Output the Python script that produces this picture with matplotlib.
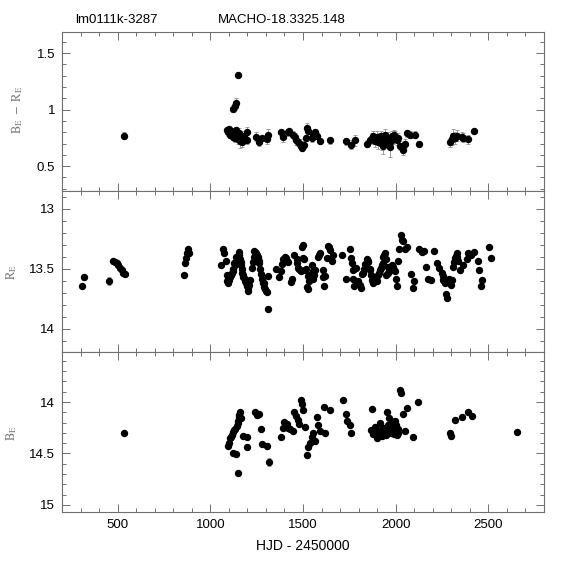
import matplotlib
matplotlib.use("Agg")
import matplotlib.pyplot as plt
from matplotlib.ticker import MultipleLocator, FormatStrFormatter

plt.rcParams['font.family'] = ['Liberation Sans', 'DejaVu Sans']
plt.rcParams['mathtext.fontset'] = 'stix'

title_left = "lm0111k-3287"
title_right = "MACHO-18.3325.148"
xlabel = "HJD - 2450000"

# rows: (HJD - 2450000, value, error)
br_rows = [
    (534, 0.77, .03), (1150, 1.31, .02), (1123, 1.01, .03), (1132, 1.03, .03), (1140, 1.06, .04),
    (1090, 0.82, .02), (1095, 0.80, .03), (1100, 0.83, .02), (1105, 0.78, .03), (1110, 0.81, .03),
    (1115, 0.79, .04), (1120, 0.76, .03), (1125, 0.80, .03), (1130, 0.77, .05), (1135, 0.75, .04),
    (1140, 0.82, .03), (1145, 0.78, .05), (1150, 0.74, .04), (1155, 0.79, .05), (1160, 0.72, .06),
    (1165, 0.76, .03), (1170, 0.71, .04), (1175, 0.74, .03), (1180, 0.77, .04), (1196, 0.80, .05),
    (1197, 0.73, .03), (1244, 0.76, .04), (1264, 0.71, .03), (1280, 0.75, .03), (1304, 0.74, .04),
    (1313, 0.78, .05), (1379, 0.80, .03), (1393, 0.76, .05), (1417, 0.80, .03), (1426, 0.81, .02),
    (1446, 0.78, .03), (1455, 0.76, .03), (1464, 0.73, .04), (1473, 0.71, .03), (1482, 0.70, .04),
    (1491, 0.68, .03), (1496, 0.66, .03), (1503, 0.69, .03), (1514, 0.75, .03), (1521, 0.84, .04),
    (1527, 0.81, .04), (1547, 0.75, .04), (1555, 0.78, .03), (1565, 0.80, .03), (1574, 0.77, .03),
    (1592, 0.72, .02), (1646, 0.73, .03), (1732, 0.72, .03), (1759, 0.69, .04), (1782, 0.73, .05),
    (1843, 0.70, .03), (1861, 0.73, .03), (1870, 0.75, .04), (1879, 0.77, .04), (1885, 0.74, .04),
    (1890, 0.72, .05), (1897, 0.76, .05), (1905, 0.71, .06), (1910, 0.75, .04), (1915, 0.73, .05),
    (1920, 0.77, .04), (1925, 0.70, .06), (1933, 0.68, .07), (1938, 0.74, .04), (1942, 0.78, .05),
    (1951, 0.71, .04), (1956, 0.75, .05), (1960, 0.73, .04), (1969, 0.67, .09), (1973, 0.72, .05),
    (1978, 0.77, .04), (1985, 0.74, .04), (1990, 0.78, .04), (1996, 0.76, .05), (2005, 0.73, .04),
    (2012, 0.75, .04), (2023, 0.68, .04), (2038, 0.64, .04), (2050, 0.70, .04), (2059, 0.79, .03),
    (2077, 0.78, .03), (2104, 0.78, .03), (2127, 0.70, .02), (2293, 0.71, .04), (2302, 0.74, .05),
    (2311, 0.77, .06), (2320, 0.75, .05), (2329, 0.77, .05), (2356, 0.76, .04), (2365, 0.75, .04),
    (2392, 0.74, .04), (2422, 0.81, .02),
]

r_rows = [
    (306, 13.64, .01), (319, 13.57, .02), (453, 13.60, .03), (477, 13.43, .01), (486, 13.44, .01),
    (495, 13.45, .01), (504, 13.47, .01), (513, 13.49, .01), (522, 13.51, .01), (531, 13.53, .01),
    (540, 13.54, .01), (858, 13.55, .01), (864, 13.45, .01), (869, 13.41, .01), (876, 13.37, .01),
    (882, 13.33, .01), (887, 13.37, .01),
    (1058, 13.47, .01), (1070, 13.33, .01), (1076, 13.37, .01), (1085, 13.43, .01), (1088, 13.55, .01),
    (1094, 13.58, .01), (1098, 13.62, .01), (1107, 13.57, .01), (1116, 13.53, .01), (1125, 13.50, .01),
    (1134, 13.47, .01), (1143, 13.43, .01), (1152, 13.39, .02), (1157, 13.36, .01), (1161, 13.42, .01),
    (1166, 13.47, .01), (1172, 13.53, .01), (1179, 13.57, .01), (1188, 13.60, .01), (1197, 13.64, .01),
    (1206, 13.68, .01), (1215, 13.59, .01), (1224, 13.49, .01), (1233, 13.40, .01), (1238, 13.35, .01),
    (1251, 13.38, .01), (1260, 13.43, .01), (1269, 13.50, .01), (1278, 13.58, .01), (1287, 13.65, .01),
    (1296, 13.67, .01), (1305, 13.69, .01), (1309, 13.56, .02), (1313, 13.83, .02), (1354, 13.50, .01),
    (1372, 13.57, .01), (1379, 13.52, .01), (1390, 13.42, .01), (1403, 13.40, .01), (1412, 13.43, .01),
    (1421, 13.44, .01), (1433, 13.61, .01), (1442, 13.58, .01), (1453, 13.38, .01), (1466, 13.42, .01),
    (1475, 13.49, .01), (1484, 13.51, .01), (1493, 13.32, .01), (1498, 13.30, .01), (1507, 13.42, .01),
    (1516, 13.50, .01), (1523, 13.65, .01), (1529, 13.56, .01),
    (1502, 13.41, .01), (1511, 13.51, .01), (1529, 13.67, .01), (1538, 13.55, .01), (1547, 13.47, .01),
    (1556, 13.58, .01), (1565, 13.51, .01), (1583, 13.40, .01), (1592, 13.37, .01), (1606, 13.51, .01),
    (1615, 13.64, .01), (1619, 13.56, .01), (1628, 13.41, .01), (1637, 13.31, .01), (1646, 13.34, .01),
    (1655, 13.43, .01), (1664, 13.38, .01), (1713, 13.38, .01), (1732, 13.58, .01), (1754, 13.33, .01),
    (1759, 13.41, .01), (1768, 13.51, .01), (1777, 13.64, .01), (1786, 13.49, .01), (1799, 13.60, .01),
    (1812, 13.66, .01), (1817, 13.54, .01), (1826, 13.53, .01), (1835, 13.46, .01), (1844, 13.42, .01),
    (1853, 13.44, .01), (1862, 13.51, .01), (1871, 13.59, .01), (1880, 13.62, .01), (1894, 13.58, .01),
    (1907, 13.55, .01), (1916, 13.51, .01), (1925, 13.47, .01), (1934, 13.40, .01), (1943, 13.37, .01),
    (1948, 13.42, .01), (1956, 13.48, .01), (1961, 13.53, .01), (1970, 13.51, .01), (1979, 13.47, .01),
    (1988, 13.49, .01), (2001, 13.58, .01), (2006, 13.64, .01), (2015, 13.43, .01), (2019, 13.33, .01),
    (2028, 13.22, .01), (2033, 13.26, .01), (2041, 13.27, .01), (2050, 13.33, .01), (2059, 13.32, .01),
    (2080, 13.54, .01), (2091, 13.66, .01), (2100, 13.60, .01), (2127, 13.33, .01), (2140, 13.36, .01),
    (2153, 13.35, .01), (2163, 13.48, .01), (2176, 13.58, .01), (2189, 13.59, .01), (2208, 13.35, .01),
    (2221, 13.45, .01), (2235, 13.49, .01), (2248, 13.53, .01), (2257, 13.59, .01), (2266, 13.62, .01),
    (2271, 13.71, .01), (2279, 13.74, .01), (2288, 13.58, .01), (2297, 13.63, .01), (2302, 13.59, .02),
    (2311, 13.48, .02), (2320, 13.41, .02), (2329, 13.37, .02), (2338, 13.43, .02), (2347, 13.51, .02),
    (2361, 13.47, .02), (2383, 13.42, .01), (2392, 13.37, .01), (2405, 13.38, .01), (2423, 13.36, .01),
    (2446, 13.43, .01), (2450, 13.51, .01), (2461, 13.64, .01), (2464, 13.59, .01), (2503, 13.32, .01),
    (2514, 13.41, .01),
    (1120, 13.52, .01), (1130, 13.45, .01), (1140, 13.40, .01), (1185, 13.58, .01), (1195, 13.62, .01),
    (1245, 13.37, .01), (1265, 13.45, .01), (1290, 13.62, .01), (1840, 13.47, .01), (1860, 13.50, .01),
    (1885, 13.57, .01), (1900, 13.60, .01), (1930, 13.45, .01), (1950, 13.55, .01),
    (1092, 13.60, .01), (1102, 13.59, .01), (1111, 13.55, .01), (1148, 13.41, .01), (1154, 13.38, .01),
    (1163, 13.44, .01), (1169, 13.50, .01), (1176, 13.55, .01), (1201, 13.66, .01), (1211, 13.63, .01),
    (1228, 13.44, .01), (1242, 13.36, .01), (1255, 13.40, .01), (1274, 13.54, .01), (1283, 13.62, .01),
    (1300, 13.68, .01), (1385, 13.46, .01), (1408, 13.41, .01), (1470, 13.45, .01), (1480, 13.50, .01),
    (1488, 13.52, .01), (1534, 13.60, .01), (1552, 13.52, .01), (1560, 13.55, .01), (1588, 13.38, .01),
    (1610, 13.57, .01), (1641, 13.32, .01), (1762, 13.45, .01), (1772, 13.58, .01), (1806, 13.63, .01),
    (1830, 13.50, .01), (1848, 13.43, .01), (1866, 13.55, .01), (1876, 13.61, .01), (1889, 13.60, .01),
    (1912, 13.53, .01), (1920, 13.49, .01), (1939, 13.38, .01), (1966, 13.52, .01), (1975, 13.49, .01),
    (1983, 13.48, .01), (1994, 13.52, .01), (2253, 13.56, .01), (2262, 13.60, .01), (2316, 13.44, .02),
    (2325, 13.39, .02), (2333, 13.40, .02),
]

b_rows = [
    (534, 14.30, .02),
    (1094, 14.43, .02), (1107, 14.35, .02), (1116, 14.32, .02), (1125, 14.29, .02), (1134, 14.26, .02),
    (1143, 14.23, .02), (1152, 14.18, .02), (1157, 14.13, .02), (1161, 14.10, .02), (1166, 14.16, .02),
    (1121, 14.50, .02), (1138, 14.51, .02), (1152, 14.69, .02), (1175, 14.33, .02), (1197, 14.34, .02),
    (1200, 14.44, .03), (1242, 14.10, .02), (1251, 14.13, .03), (1265, 14.12, .02), (1274, 14.26, .02),
    (1278, 14.41, .02), (1305, 14.43, .03), (1314, 14.58, .04), (1381, 14.34, .02), (1390, 14.25, .02),
    (1399, 14.19, .02), (1412, 14.21, .02), (1421, 14.25, .02), (1430, 14.26, .02), (1448, 14.28, .02),
    (1453, 14.10, .02), (1462, 14.14, .02), (1471, 14.17, .02), (1480, 14.21, .02), (1487, 13.98, .02),
    (1493, 14.02, .02), (1502, 14.08, .02), (1511, 14.24, .02), (1523, 14.52, .02), (1529, 14.44, .02),
    (1538, 14.40, .02), (1547, 14.34, .02), (1556, 14.30, .02), (1565, 14.38, .02), (1574, 14.15, .02),
    (1583, 14.22, .02), (1592, 14.28, .02), (1615, 14.05, .02), (1620, 14.30, .02), (1645, 14.08, .02),
    (1716, 13.98, .02), (1730, 14.12, .02), (1740, 14.18, .02), (1752, 14.22, .02), (1760, 14.30, .02),
    (1865, 14.27, .02), (1870, 14.07, .02), (1880, 14.31, .02), (1890, 14.24, .03), (1900, 14.35, .03),
    (1910, 14.28, .03), (1915, 14.20, .02), (1925, 14.33, .03), (1935, 14.25, .03), (1945, 14.30, .02),
    (1955, 14.10, .03), (1958, 14.22, .03), (1965, 14.16, .02), (1975, 14.30, .02), (1985, 14.25, .03),
    (1995, 14.18, .02), (2005, 14.32, .02), (2015, 14.26, .02), (2023, 13.88, .02), (2030, 13.91, .02),
    (2040, 14.12, .02), (2050, 14.28, .02), (2060, 14.06, .02), (2093, 14.34, .02), (2120, 14.00, .02),
    (2293, 14.30, .03), (2300, 14.33, .03), (2320, 14.17, .02), (2357, 14.15, .02), (2390, 14.10, .02),
    (2410, 14.14, .02), (2654, 14.29, .02),
    (1100, 14.40, .02), (1112, 14.34, .02), (1130, 14.27, .02), (1147, 14.20, .02), (1155, 14.15, .02),
    (1905, 14.32, .03), (1920, 14.27, .03), (1940, 14.28, .03), (1950, 14.32, .03), (1970, 14.26, .02),
    (1980, 14.21, .02), (1990, 14.31, .02), (2000, 14.22, .02), (2010, 14.30, .02), (1885, 14.28, .02),
]

W = H = 574
fig = plt.figure(figsize=(5.74, 5.74), dpi=100)
L, R = 62 / W, 544 / W
edges = [31.7, 191, 351.7, 512]
axes = []
for i in range(3):
    top, bot = edges[i], edges[i + 1]
    ax = fig.add_axes([L, 1 - bot / H, R - L, (bot - top) / H])
    axes.append(ax)

frame_col = '#707070'
err_col = '#909090'
series = [
    (br_rows, (0.28, 1.69), r'$\mathrm{B_E\ -\ R_E}$', 110, 18),
    (r_rows, (14.19, 12.85), r'$\mathrm{R_E}$', 272, 12),
    (b_rows, (15.07, 13.51), r'$\mathrm{B_E}$', 433, 12),
]
for ax, (rows, ylim, lab, ly, lx) in zip(axes, series):
    xs, ys, es = zip(*rows)
    ax.errorbar(xs, ys, yerr=es, fmt='o', ms=4.3, mfc='black', mec='black',
                ecolor=err_col, elinewidth=0.6, capsize=1.6, capthick=0.6, zorder=3)
    ax.set_xlim(200, 2800)
    ax.set_ylim(*ylim)
    ax.xaxis.set_major_locator(MultipleLocator(500))
    ax.xaxis.set_minor_locator(MultipleLocator(100))
    ax.yaxis.set_major_locator(MultipleLocator(0.5))
    ax.yaxis.set_minor_locator(MultipleLocator(0.1))
    ax.yaxis.set_major_formatter(FormatStrFormatter('%g'))
    ax.tick_params(which='both', direction='in', top=True, right=True,
                   color=frame_col, width=0.7)
    ax.tick_params(which='major', length=6, labelsize=9.5, pad=5)
    ax.tick_params(which='minor', length=3)
    for s in ax.spines.values():
        s.set_color(frame_col)
        s.set_linewidth(0.8)
    fig.text(lx / W, 1 - ly / H, lab, rotation=90, color='#777777', fontsize=9,
             ha='center', va='center')

for ax in axes[:2]:
    ax.tick_params(labelbottom=False)
axes[2].set_xlabel(xlabel, fontsize=10, labelpad=6)

fig.text(75 / W, 1 - 20 / H, title_left, fontsize=9.5, ha='left', va='center')
fig.text(218 / W, 1 - 20 / H, title_right, fontsize=9.5, ha='left', va='center')

fig.savefig('out.png', dpi=100)
